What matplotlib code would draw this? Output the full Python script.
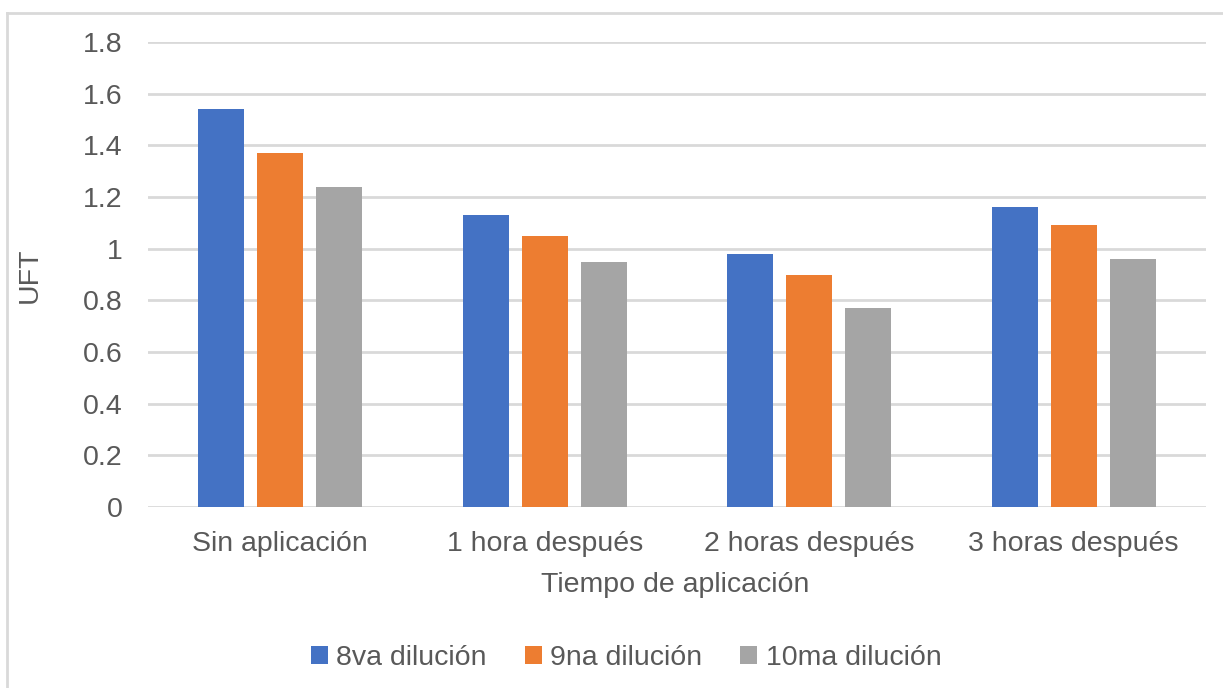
import matplotlib
matplotlib.use("Agg")
import matplotlib.pyplot as plt
from matplotlib.lines import Line2D
from matplotlib.ticker import FuncFormatter
import numpy as np

categories = ["Sin aplicación", "1 hora después", "2 horas después", "3 horas después"]
series_names = ["8va dilución", "9na dilución", "10ma dilución"]
s8va = [1.54, 1.13, 0.98, 1.16]
s9na = [1.37, 1.05, 0.90, 1.09]
s10ma = [1.24, 0.95, 0.77, 0.96]
yticks = [0, 0.2, 0.4, 0.6, 0.8, 1.0, 1.2, 1.4, 1.6, 1.8]

colors = ["#4472C4", "#ED7D31", "#A5A5A5"]
text_color = "#595959"
grid_color = "#D9D9D9"
fs = 20.5

plt.rcParams['font.family'] = ['Liberation Sans', 'DejaVu Sans']

W, H = 1223, 688
fig = plt.figure(figsize=(W / 100, H / 100), dpi=100)
ax = fig.add_axes([148 / W, 1 - 507 / H, (1206 - 148) / W, (507 - 42) / H])

x = np.arange(len(categories))
width = 0.174
step = 0.223
for i, (vals, name) in enumerate(zip([s8va, s9na, s10ma], series_names)):
    ax.bar(x + (i - 1) * step, vals, width, color=colors[i], label=name, zorder=3)

ax.set_xlim(-0.5, len(categories) - 0.5)
ax.set_ylim(0, 1.8)
ax.set_yticks(yticks)
ax.yaxis.set_major_formatter(FuncFormatter(lambda v, p: f"{v:g}"))
ax.set_xticks(x)
ax.set_xticklabels(categories)
ax.tick_params(axis='both', length=0, labelsize=fs, colors=text_color)
ax.tick_params(axis='y', pad=18.5)
ax.tick_params(axis='x', pad=17.5)
ax.grid(axis='y', color=grid_color, linewidth=2, zorder=0)
for s in ax.spines.values():
    s.set_visible(False)

fig.text(675 / W, 1 - 585 / H, "Tiempo de aplicación", fontsize=fs, color=text_color,
         ha='center', va='center')
fig.text(30 / W, 1 - 275 / H, "UFT", rotation=90, fontsize=fs, color=text_color,
         ha='center', va='center')

leg = fig.legend(loc='center', bbox_to_anchor=(626 / W, 1 - 658 / H), ncol=3,
                 frameon=False, fontsize=fs, handlelength=0.6, handleheight=0.6,
                 handletextpad=0.3, columnspacing=1.33)
for t in leg.get_texts():
    t.set_color(text_color)

# chart frame (cut off on right/bottom)
fig.add_artist(Line2D([7 / W, 1.0], [1 - 13 / H, 1 - 13 / H], color=grid_color, linewidth=2))
fig.add_artist(Line2D([7 / W, 7 / W], [0.0, 1 - 13 / H], color=grid_color, linewidth=2))

fig.savefig("out.png", dpi=100)
